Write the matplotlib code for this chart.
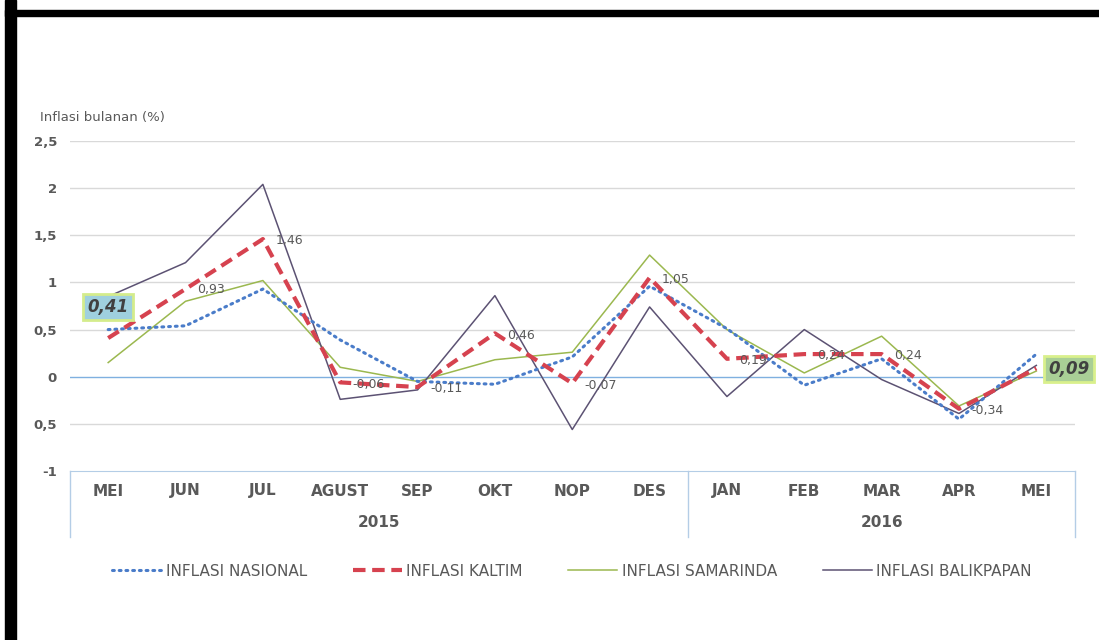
import matplotlib.pyplot as plt
import matplotlib.transforms as mtransforms
from matplotlib.patches import Rectangle

months = ['MEI', 'JUN', 'JUL', 'AGUST', 'SEP', 'OKT', 'NOP', 'DES',
          'JAN', 'FEB', 'MAR', 'APR', 'MEI']
years = ['2015', '2016']
year_span = [(0, 7), (8, 12)]

nasional = [0.50, 0.54, 0.93, 0.39, -0.05, -0.08, 0.21, 0.96, 0.51, -0.09, 0.19, -0.45, 0.24]
kaltim = [0.41, 0.93, 1.46, -0.06, -0.11, 0.46, -0.07, 1.05, 0.19, 0.24, 0.24, -0.34, 0.09]
samarinda = [0.15, 0.80, 1.02, 0.10, -0.05, 0.18, 0.26, 1.29, 0.50, 0.04, 0.43, -0.31, 0.06]
balikpapan = [0.85, 1.21, 2.04, -0.24, -0.14, 0.86, -0.56, 0.74, -0.21, 0.50, -0.03, -0.39, 0.12]

yticks = [2.5, 2, 1.5, 1, 0.5, 0, -0.5, -1]
ytick_labels = ['2,5', '2', '1,5', '1', '0,5', '0', '0,5', '-1']

gray = '#595959'

fig = plt.figure(figsize=(10.99, 6.40), dpi=100)
ax = fig.add_axes([69.5 / 1099, 1 - 471 / 640, (1075 - 69.5) / 1099, (471 - 141) / 640])

x = list(range(len(months)))
ax.plot(x, nasional, color='#4a7cc9', lw=2.2, ls=(0, (0.6, 1.6)), dash_capstyle='round',
        label='INFLASI NASIONAL', zorder=4)
ax.plot(x, kaltim, color='#d6424f', lw=3.0, ls=(0, (3, 1.6)), label='INFLASI KALTIM', zorder=5)
ax.plot(x, samarinda, color='#9bb84f', lw=1.1, label='INFLASI SAMARINDA', zorder=3)
ax.plot(x, balikpapan, color='#5c5273', lw=1.1, label='INFLASI BALIKPAPAN', zorder=3)

ax.set_xlim(-0.5, len(months) - 0.5)
ax.set_ylim(-1, 2.5)
ax.set_yticks(yticks)
ax.set_yticklabels(ytick_labels, fontsize=9.5, fontweight='bold', color=gray)
ax.tick_params(axis='y', length=0, pad=9)
ax.set_xticks(x)
ax.set_xticklabels(months, fontsize=11, fontweight='bold', color=gray)
ax.tick_params(axis='x', length=0, pad=9)

for v in yticks[:-1]:
    if v == 0:
        ax.axhline(v, color='#7fb0e0', lw=1.0, zorder=1)
    else:
        ax.axhline(v, color='#d9d9d9', lw=1.0, zorder=1)

for s in ['top', 'right', 'left']:
    ax.spines[s].set_visible(False)
ax.spines['bottom'].set_color('#b4cde6')

# category box with year groups
trans = mtransforms.blended_transform_factory(ax.transData, ax.transAxes)
for xv in [-0.5, 7.5, 12.5]:
    ax.plot([xv, xv], [0, -0.2], color='#b4cde6', lw=1.0, transform=trans, clip_on=False)
for yr, (a, b) in zip(years, year_span):
    ax.text((a + b) / 2, -0.157, yr, transform=trans, ha='center', va='center',
            fontsize=11, fontweight='bold', color=gray)

# data labels for Kaltim
for i, v in enumerate(kaltim):
    txt = ('%.2f' % v).replace('.', ',')
    if i == 0:
        ax.text(i, v + 0.33, txt, ha='center', va='center', fontsize=12, fontweight='bold',
                style='italic', color='#404040', zorder=6,
                bbox=dict(boxstyle='square,pad=0.25', fc='#9fd0de', ec='#d4ec8c', lw=2))
    elif i == len(kaltim) - 1:
        ax.text(i + 0.42, v - 0.01, txt, ha='center', va='center', fontsize=12, fontweight='bold',
                style='italic', color='#404040', zorder=6,
                bbox=dict(boxstyle='square,pad=0.25', fc='#a9cf96', ec='#d9f08c', lw=2))
    elif i == 1:
        ax.text(i + 0.33, v - 0.01, txt, ha='center', va='center', fontsize=9, color=gray, zorder=6)
    else:
        ax.text(i + 0.16, v - 0.02, txt, ha='left', va='center',
                fontsize=9, color=gray, zorder=6)

fig.text(40 / 1099, 1 - 117 / 640, 'Inflasi bulanan (%)', fontsize=9.5, color=gray,
         ha='left', va='center')

leg = fig.legend(loc='center', bbox_to_anchor=(572 / 1099, 1 - 571 / 640), ncol=4,
                 frameon=False, handlelength=3.2, columnspacing=3.0, handletextpad=0.3,
                 prop={'size': 11})
for t in leg.get_texts():
    t.set_color(gray)

# black frame
fig.patches.append(Rectangle((5 / 1099, 0), 11 / 1099, 1, transform=fig.transFigure,
                             color='black', zorder=10))
fig.patches.append(Rectangle((5 / 1099, 1 - 16 / 640), 1, 6 / 640, transform=fig.transFigure,
                             color='black', zorder=10))

fig.savefig('out.png', dpi=100)
